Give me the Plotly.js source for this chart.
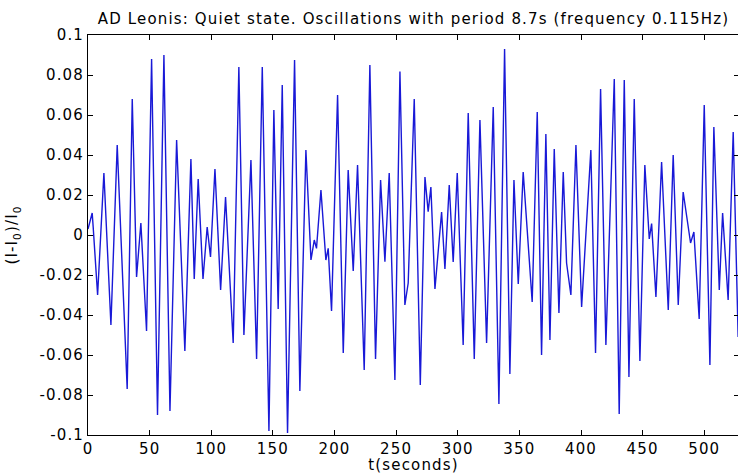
<!DOCTYPE html>
<html>
<head>
<meta charset="utf-8">
<script src="https://cdn.plot.ly/plotly-3.0.1.min.js"></script>
<style>
  html, body { margin: 0; padding: 0; overflow: hidden; background: #fff; }
  #chart { width: 740px; height: 474px; }
  #chart text { letter-spacing: 1.15px; }
</style>
</head>
<body>
<div id="chart"></div>
<script>
// time (s) of the turning points
const timeSec = [
  0, 3.4, 4.2, 7.8, 12.9, 18.6, 23.7, 31.8, 35.9, 39.4, 42.9, 47.5, 51.6, 56.4, 61.6, 66.5,
  71.9, 78.6, 83.5, 86.2, 89.4, 93.3, 96.7, 99.4, 103.0, 107.6, 111.6, 117.8, 122.4, 126.5,
  132.2, 136.8, 141.4, 146.8, 150.8, 154.3, 157.6, 161.9, 167.6, 171.9, 176.8, 180.9, 183.6,
  185.4, 189.0, 193.0, 194.9, 197.6, 202.5, 207.1, 211.1, 215.2, 218.7, 224.1, 228.7, 233.3,
  237.4, 240.9, 244.4, 249.0, 253.1, 257.1, 259.8, 264.7, 269.6, 273.4, 276.0, 278.2, 281.5,
  286.9, 289.6, 293.1, 296.3, 299.6, 304.4, 308.5, 313.4, 318.0, 323.4, 328.8, 333.4, 338.0,
  342.3, 345.6, 349.1, 353.1, 360.4, 364.5, 368.0, 371.5, 374.8, 378.3, 382.1, 385.6, 388.3,
  391.8, 395.9, 400.5, 408.0, 411.8, 415.9, 420.2, 427.0, 431.0, 435.1, 438.9, 443.2, 447.8,
  451.8, 455.4, 457.3, 460.8, 465.4, 470.8, 474.8, 478.9, 482.9, 487.0, 488.9, 491.6, 495.9,
  500.0, 504.6, 507.8, 512.2, 514.9, 519.4, 523.5, 527.5
];
// relative intensity (I-I0)/I0 at those times
const relIntensity = [
  0.003, 0.011, 0.004, -0.030, 0.031, -0.045, 0.045, -0.077, 0.068, -0.021, 0.006, -0.048, 0.088, -0.090, 0.090, -0.088,
  0.0475, -0.058, 0.038, -0.022, 0.028, -0.022, 0.004, -0.011, 0.033, -0.0275, 0.019, -0.054, 0.084, -0.050,
  0.0375, -0.062, 0.084, -0.098, 0.0625, -0.037, 0.075, -0.099, 0.0875, -0.078, 0.0425, -0.0125, -0.0025,
  -0.0067, 0.0225, -0.0125, -0.0067, -0.038, 0.070, -0.059, 0.0325, -0.018, 0.035, -0.0675, 0.085, -0.062,
  0.0275, -0.0133, 0.031, -0.0725, 0.0817, -0.035, -0.024, 0.068, -0.075, 0.029, 0.0117, 0.024, -0.027,
  0.0115, -0.017, 0.025, -0.0135, 0.031, -0.055, 0.061, -0.062, 0.0575, -0.054, 0.064, -0.0845, 0.093,
  -0.0695, 0.0275, -0.0245, 0.0315, -0.0335, 0.0615, -0.060, 0.0505, -0.0525, 0.043, -0.039, 0.0315, -0.014,
  -0.030, 0.045, -0.036, 0.0425, -0.059, 0.073, -0.055, 0.078, -0.0895, 0.0775, -0.071, 0.068, -0.063,
  0.035, -0.002, 0.0057, -0.031, 0.0365, -0.0375, 0.040, -0.035, 0.0215, 0.0023, -0.004, 0.0015, -0.042,
  0.065, -0.065, 0.054, -0.0275, 0.011, -0.0325, 0.0515, -0.051
];
const xTickVals = [0, 50, 100, 150, 200, 250, 300, 350, 400, 450, 500];
const xTickText = ['0', '50', '100', '150', '200', '250', '300', '350', '400', '450', '500'];
const yTickVals = [-0.1, -0.08, -0.06, -0.04, -0.02, 0, 0.02, 0.04, 0.06, 0.08, 0.1];
const yTickText = ['-0.1', '-0.08', '-0.06', '-0.04', '-0.02', '0', '0.02', '0.04', '0.06', '0.08', '0.1'];

const font = { family: 'DejaVu Sans, Verdana, sans-serif', size: 15, color: '#000' };

const trace = {
  x: timeSec,
  y: relIntensity,
  type: 'scatter',
  mode: 'lines',
  line: { color: 'rgb(25,25,215)', width: 1.4 },
  hoverinfo: 'skip'
};

const axisCommon = {
  showgrid: false,
  zeroline: false,
  showline: true,
  linecolor: '#000',
  linewidth: 1,
  mirror: 'ticks',
  ticks: 'inside',
  ticklen: 5,
  tickcolor: '#000',
  tickwidth: 1,
  tickfont: font,
  tickmode: 'array'
};

const layout = {
  width: 740,
  height: 474,
  margin: { l: 88, r: 1, t: 35, b: 39 },
  paper_bgcolor: '#fff',
  plot_bgcolor: '#fff',
  showlegend: false,
  font: font,
  title: {
    text: 'AD Leonis: Quiet state. Oscillations with period 8.7s (frequency 0.115Hz)',
    font: font,
    x: 0.5,
    xref: 'paper',
    xanchor: 'center',
    y: 1 - 18.7 / 474,
    yref: 'container',
    yanchor: 'middle'
  },
  xaxis: Object.assign({}, axisCommon, {
    range: [0, 528.2],
    tickvals: xTickVals,
    ticktext: xTickText,
    title: { text: 't(seconds)', font: font, standoff: 8 }
  }),
  yaxis: Object.assign({}, axisCommon, {
    range: [-0.1, 0.1],
    tickvals: yTickVals,
    ticktext: yTickText,
    title: { text: '(I-I<sub>0</sub>)/I<sub>0</sub>', font: font, standoff: 23 }
  })
};

Plotly.newPlot('chart', [trace], layout, { staticPlot: true, displayModeBar: false });
</script>
</body>
</html>
